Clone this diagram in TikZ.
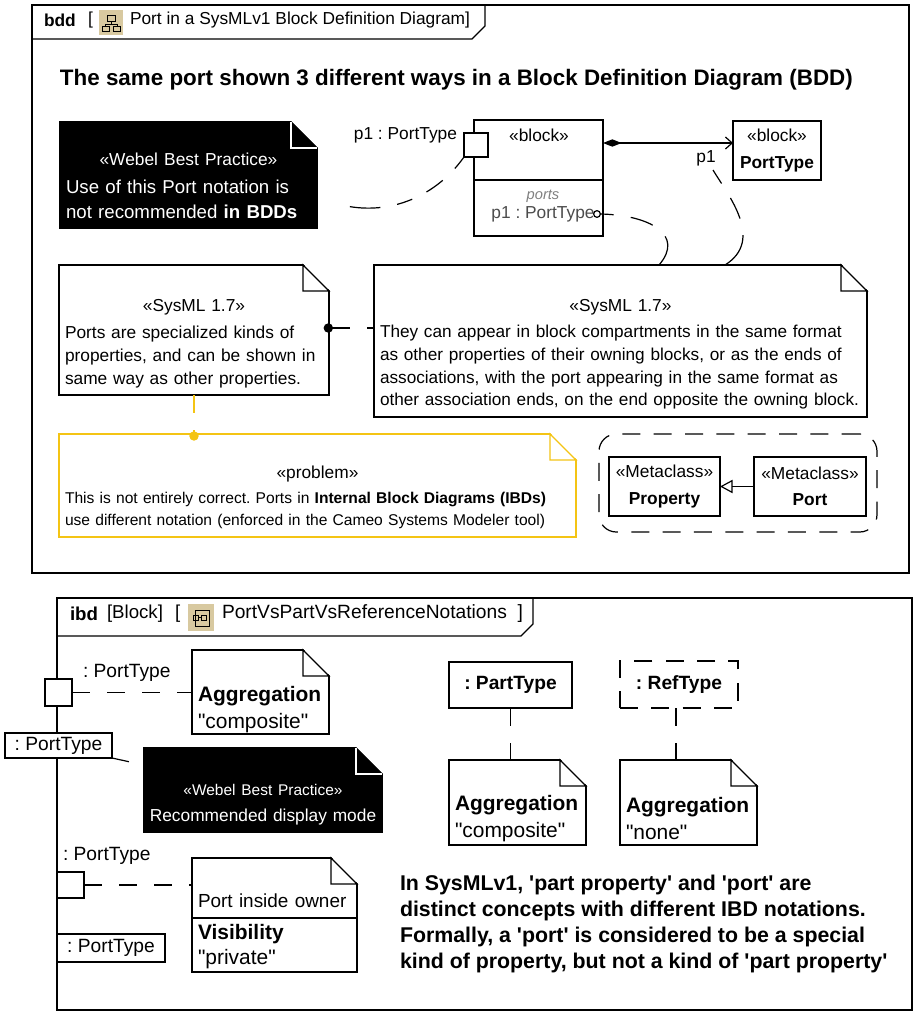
\documentclass[tikz,border=0pt]{standalone}
\usepackage{fontspec}
\setmainfont[Ligatures=TeXOff]{Liberation Sans}
\usetikzlibrary{arrows.meta, positioning}
\definecolor{miTan}{RGB}{216, 201, 160}
\definecolor{miGold}{RGB}{244, 196, 20}
\definecolor{miGray}{RGB}{128, 128, 128}
\newcommand{\notepad}[1]{\rule{0pt}{#1pt}}
% cuts the top right corner off a note
\newcommand{\foldcut}[1]{%
  \coordinate (#1corner) at (#1.north east);
  \fill[white] ([xshift=-19.5pt,yshift=1pt]#1corner) -- ([xshift=1pt,yshift=1pt]#1corner) -- ([xshift=1pt,yshift=-19.5pt]#1corner) -- cycle;}
\newcommand{\notefold}[2][black]{%
  \foldcut{#2}
  \draw[#1] ([xshift=-19.5pt]#2corner) |- ([yshift=-19.5pt]#2corner) -- cycle;}
\newcommand{\blackfold}[1]{%
  \foldcut{#1}
  \fill[black] ([xshift=-19.5pt]#1corner) |- ([yshift=-19.5pt]#1corner) -- cycle;
  \draw[white] ([xshift=-19.5pt]#1corner) |- ([yshift=-19.5pt]#1corner);}

\begin{document}
\frenchspacing
\begin{tikzpicture}[
  x=0.75pt, y=-0.75pt, line width=0.9pt,
  every node/.style={font=\fontsize{13}{17.25}\selectfont, outer sep=0pt},
  boxsize/.style 2 args={minimum width=#1*0.75pt, minimum height=#2*0.75pt},
  note/.style 2 args={draw, fill=white, align=left, inner xsep=4.5pt, inner ysep=0pt,
              boxsize={#1}{#2}, text width=(#1-12)*0.75pt},
  blacknote/.style 2 args={note={#1}{#2}, fill=black, text=white},
  box/.style 2 args={draw, fill=white, align=center, inner sep=0pt, boxsize={#1}{#2}},
  lbl/.style={inner sep=0pt, anchor=west},
  big/.style={font=\fontsize{15.7}{20.25}\selectfont},
  port/.style={font=\fontsize{14.4}{17}\selectfont},
  icon/.style={draw=none, fill=miTan, inner sep=0pt, boxsize={24}{25}},
  dep/.style={dash pattern=on 13.5pt off 12.75pt},
  dot/.style={{Circle[length=7pt]}-}
]
\useasboundingbox (0,0) rectangle (920,1018);

%% bdd frame
\node[box={877}{568}] (bddframe) at (470.5,289) {};
\draw (32,39) -- (472,39) -- (485,26) -- (485,5);
\node[lbl] (bddkind) at (44,20) {\textbf{bdd}};
\node[lbl] (bddopen) at (88,20) {[};
\node[icon] (bddicon) at (111,22.5) {};
\draw[line width=0.5pt] (107,15) rectangle (115,21) (111,21) -- (111,24) (105,24) -- (117,24)
  (105,24) -- (105,26) (117,24) -- (117,26) (102,26) rectangle (109,31) (113,26) rectangle (120,31);
\node[lbl] (bddname) at (130,20) {Port in a SysMLv1 Block Definition Diagram]};
\node[lbl, font=\fontsize{16.8}{20}\selectfont\bfseries] (bddtitle) at (60,80)
  {The same port shown 3 different ways in a Block Definition Diagram (BDD)};

%% block and its port
\node[box={129}{116}] (block) at (538.5,178) {};
\draw (block.west |- 0,180) -- (block.east |- 0,180);
\node (blockstereo) at (539,135) {«block»};
\node[font=\fontsize{11}{12}\itshape\selectfont, text=miGray] (portshead) at (543,196) {ports};
\node[text=black!70] (portsitem) at (543,214) {p1 : PortType};
\node[box={24}{24}] (bddport) at (476,145) {};
\node[lbl, anchor=east] (bddportlbl) at (457,135) {p1 : PortType};
\node[box={88}{59}] (porttype) at (777,150.5) {«block»\\[2.5pt]\textbf{PortType}};
\draw[{Diamond[length=14pt,width=5.5pt]}-{Straight Barb[length=5pt,width=9pt]}] (block.east |- 0,143) -- (porttype.west |- 0,143);
\node (assocend) at (706,158) {p1};

%% notes of the bdd
\node[blacknote={257}{106}, font=\fontsize{14}{18.75}\selectfont] (webelnote) at (188.5,175)
  {\notepad{25.5}\makebox[\linewidth]{\fontsize{13}{17}\selectfont«Webel Best Practice»}\\[2.25pt]Use of this Port notation is\\not recommended \textbf{in BDDs}};
\blackfold{webelnote}
\node[note={270}{130}] (leftnote) at (194,330)
  {\notepad{29}\makebox[\linewidth]{«SysML 1.7»}\\[3pt]Ports are specialized kinds of\\properties, and can be shown in\\same way as other properties.};
\notefold{leftnote}
\node[note={493}{152}, font=\fontsize{12.9}{17}\selectfont] (rightnote) at (620.5,341)
  {\notepad{29}\makebox[\linewidth]{\fontsize{13}{17}\selectfont«SysML 1.7»}\\[3pt]They can appear in block compartments in the same format\\as other properties of their owning blocks, or as the ends of\\associations, with the port appearing in the same format as\\other association ends, on the end opposite the owning block.};
\notefold{rightnote}
\node[note={517}{103}, draw=miGold, font=\fontsize{11.7}{16.5}\selectfont] (problemnote) at (317.5,485.5)
  {\notepad{27}\makebox[\linewidth]{\fontsize{13}{17}\selectfont«problem»}\\[2pt]This is not entirely correct. Ports in \textbf{Internal Block Diagrams (IBDs)}\\use different notation (enforced in the Cameo Systems Modeler tool)};
\notefold[miGold]{problemnote}

%% metaclasses
\node[box={278}{98}, draw=black, dash pattern=on 13.5pt off 10pt, rounded corners=13pt] (metagroup) at (738,483) {};
\node[box={111}{59}] (property) at (664.5,486.5) {«Metaclass»\\[2.5pt]\textbf{Property}};
\node[box={112}{59}] (metaport) at (810,486.5) {«Metaclass»\\[2.5pt]\textbf{Port}};
\draw[-{Triangle[open,length=9.5pt,width=10pt]}] (metaport.west) -- (property.east);

%% connectors of the bdd
\coordinate (webelend) at (317,196);
\draw[dash pattern=on 11pt off 12.75pt on 15pt off 12pt on 12pt off 12.75pt on 23pt off 40pt] (bddport.south west) .. controls (430,205) and (370,222) .. (webelend);
\node[draw, circle, fill=white, inner sep=0pt, minimum size=5pt] (portsdot) at (597,214) {};
\draw[dash pattern=on 10pt off 13pt on 17.5pt off 12.75pt on 30pt off 10pt] (portsdot.east) .. controls (650,215) and (685,235) .. (659,265);
\coordinate (assocstart) at (713,170);
\draw[dash pattern=on 12pt off 12.75pt on 17pt off 12.75pt on 40pt off 10pt] (assocstart) .. controls (728,195) and (765,240) .. (725,265);
\draw[dep, dot] ([xshift=-4pt,yshift=1.5pt]leftnote.east) -- ([yshift=1.5pt]rightnote.west |- leftnote.east);
\draw[dep, miGold, -{Circle[length=7pt]}] (leftnote.south) -- ([yshift=-5pt]leftnote.south |- problemnote.north);

%% ibd frame
\node[box={855}{412}] (ibdframe) at (484.5,804) {};
\draw (57,636) -- (521,636) -- (533,624) -- (533,598);
\node[lbl, font=\fontsize{14}{17}\selectfont] (ibdkind) at (70,614) {\textbf{ibd}};
\node[lbl, font=\fontsize{14}{17}\selectfont] (ibdctx) at (107,614) {[Block]};
\node[lbl, font=\fontsize{14}{17}\selectfont] (ibdopen) at (175,614) {[};
\node[icon, boxsize={26}{27}] (ibdicon) at (201,617.5) {};
\draw[line width=0.5pt] (195,610) rectangle (209,626) (193,615) rectangle (198,620) (201,615) rectangle (206,620) (198,617) -- (201,617);
\node[lbl, font=\fontsize{14.4}{17}\selectfont] (ibdname) at (222,614) {PortVsPartVsReferenceNotations\hspace{4pt} ]};

%% ports on the frame
\node[box={27}{27}] (outerport) at (58.5,692.5) {};
\node[lbl, port] (outerportlbl) at (83,673) {: PortType};
\node[box={107}{25}, port] (outerbox) at (58.5,745.5) {: PortType};
\node[box={27}{26}] (innerport) at (70.5,885) {};
\node[lbl, port] (innerportlbl) at (63,856) {: PortType};
\node[box={108}{28}, port] (innerbox) at (111,948) {: PortType};

%% notes of the ibd
\node[note={137}{84}, big] (compnote) at (260.5,692)
  {\notepad{37}\textbf{Aggregation}\\"composite"};
\notefold{compnote}
\node[blacknote={238}{84}] (bestnote) at (263,790)
  {\notepad{30}\makebox[\linewidth]{\fontsize{11.6}{13}\selectfont«Webel Best Practice»}\\[2.5pt]\makebox[\linewidth]{Recommended display mode}};
\blackfold{bestnote}
\node[note={165}{114}, font=\fontsize{14.2}{17.25}\selectfont] (privnote) at (274.5,915)
  {\notepad{35}Port inside owner\\[6.5pt]{\fontsize{15.7}{19.5}\selectfont\textbf{Visibility}}\\[2pt]{\fontsize{15.7}{19.5}\selectfont"private"}};
\notefold{privnote}
\draw (privnote.west |- 0,918) -- (privnote.east |- 0,918);
\node[box={123}{46}, port] (parttype) at (510.5,685) {\raisebox{2pt}{\textbf{: PartType}}};
\node[note={137}{85}, big] (partnote) at (517.5,802.5)
  {\notepad{35.5}\textbf{Aggregation}\\"composite"};
\notefold{partnote}
\node[box={118}{47}, port, dash pattern=on 13.5pt off 10pt] (reftype) at (679,684.5) {\raisebox{2pt}{\textbf{: RefType}}};
\node[note={137}{85}, big] (refnote) at (688.5,802.5)
  {\notepad{35.5}\textbf{Aggregation}\\"none"};
\notefold{refnote}
\node[lbl, anchor=north west, align=left, font=\fontsize{16}{19.5}\selectfont\bfseries] (ibdtext) at (400,875)
  {In SysMLv1, 'part property' and 'port' are\\distinct concepts with different IBD notations.\\Formally, a 'port' is considered to be a special\\kind of property, but not a kind of 'part property'};

%% connectors of the ibd
\draw[dep] (outerport.east) -- (compnote.west |- outerport.east);
\draw[dash pattern=on 13pt off 22pt] (outerbox.south east) -- (bestnote.west |- 0,765);
\draw[dep] (innerport.east) -- (privnote.west |- innerport.east);
\draw[dep] (parttype.south) -- (parttype.south |- partnote.north);
\draw[dep] (676,0 |- reftype.south) -- (676,0 |- refnote.north);
\end{tikzpicture}
\end{document}
